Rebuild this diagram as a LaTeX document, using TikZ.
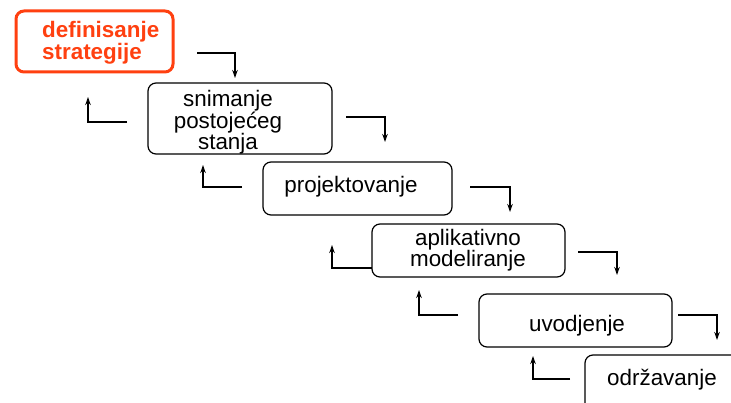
\documentclass[tikz,border=0pt]{standalone}
\usepackage{fontspec}
\setmainfont{Liberation Sans}
\usetikzlibrary{arrows.meta}
\definecolor{orng}{RGB}{255,64,16}
\begin{document}
\begin{tikzpicture}[x=1pt,y=-1pt,
  box/.style={draw=black,line width=1.2pt,rounded corners=8pt},
  redbox/.style={draw=orng,line width=3pt,rounded corners=8pt},
  lbl/.style={font=\fontsize{22.4}{21}\selectfont,align=center,anchor=base,inner sep=0pt},
  redlbl/.style={font=\fontsize{22.4}{22}\selectfont\bfseries,align=left,anchor=base west,inner sep=0pt,text=orng},
  conn/.style={line width=1.2pt,-{Stealth[length=8pt,width=5.5pt]}}]
\clip (0,0) rectangle (731,403);
\fill[white] (0,0) rectangle (731,403);
% boxes
\path[redbox] (16,11) rectangle (173,72);
\node[redlbl] (t1) at (42,60) {definisanje\\strategije};
\path[box] (148,83) rectangle (332,154);
\node[lbl] (t2) at (228,150) {snimanje\\postoje\'ceg\\stanja};
\path[box] (263,162) rectangle (452,215);
\node[lbl] (t3) at (351,193) {projektovanje};
\path[box] (372,224) rectangle (565,277);
\node[lbl] (t4) at (468,267) {aplikativno\\modeliranje};
\path[box] (479,294) rectangle (672,347);
\node[lbl] (t5) at (577,332) {uvodjenje};
\path[box] (585,355) rectangle (770,440);
\node[lbl] (t6) at (662,385) {održavanje};
% connector end points
\coordinate (a1s) at (197,53);  \coordinate (a1e) at (235,78);
\coordinate (a2s) at (127,122); \coordinate (a2e) at (88,97);
\coordinate (a3s) at (346,117); \coordinate (a3e) at (385,142);
\coordinate (a4s) at (242,187); \coordinate (a4e) at (203,165);
\coordinate (a5s) at (470,187); \coordinate (a5e) at (510,212);
\coordinate (a6s) at (372,268); \coordinate (a6e) at (332,245);
\coordinate (a7s) at (578,252); \coordinate (a7e) at (617,275);
\coordinate (a8s) at (458,315); \coordinate (a8e) at (419,290);
\coordinate (a9s) at (678,315); \coordinate (a9e) at (717,340);
\coordinate (a10s) at (570,379); \coordinate (a10e) at (533,356);
\foreach \i in {1,...,10} {\draw[conn] (a\i s) -| (a\i e);}
\end{tikzpicture}
\end{document}
